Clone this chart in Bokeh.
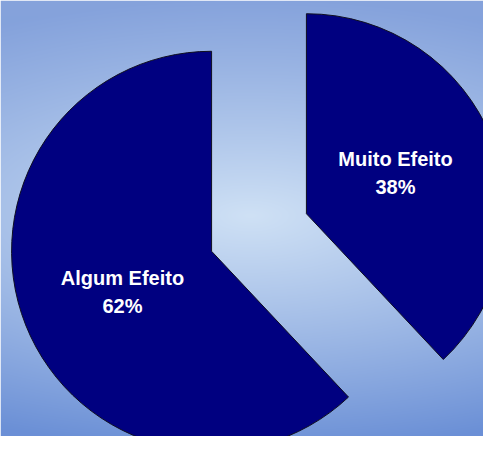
import numpy as np
from bokeh.plotting import figure
from bokeh.models import ColumnDataSource, Range1d
from bokeh.embed import file_html
from bokeh.resources import INLINE
from bokeh.core.properties import value

# ---- data ----
categories = ["Muito Efeito", "Algum Efeito"]
percentages = [38, 62]
labels = ["Muito Efeito\n38%", "Algum Efeito\n62%"]

# ---- geometry / style (reference pixel space, y up) ----
W, H = 499, 452
FW, FH = 483, 436
cx, cy = 258.5, H - 232.0
R = 200.0
explode = 51.0
label_r = 98.0

vals = np.array(percentages, dtype=float)
fracs = vals / vals.sum()
ends_cum = np.cumsum(fracs)
starts_cum = ends_cum - fracs
start_angles = np.pi / 2 - 2 * np.pi * starts_cum
end_angles = np.pi / 2 - 2 * np.pi * ends_cum
mid = (start_angles + end_angles) / 2
xs = cx + explode * np.cos(mid)
ys = cy + explode * np.sin(mid)
lab_ang = mid + np.radians(3)
lx = xs + label_r * np.cos(lab_ang)
ly = ys + label_r * np.sin(lab_ang)

src = ColumnDataSource(dict(cat=categories, x=xs, y=ys, sa=start_angles, ea=end_angles,
                            lx=lx, ly=ly, label=labels))

p = figure(width=FW, height=FH, output_backend="svg", toolbar_location=None,
           x_range=Range1d(0, FW), y_range=Range1d(H - FH, H),
           min_border=0, outline_line_color=None)
p.axis.visible = False
p.grid.visible = False

# background gradient (smooth, light centre, darker edges)
yy, xx = np.mgrid[0:H, 0:W]
ypix = H - (yy + 0.5)
xpix = xx + 0.5
gcx, gcy = 250.0, 215.0
fy = np.where(ypix < gcy, (gcy - ypix) / gcy, (ypix - gcy) / (H - gcy))
fx = np.abs(xpix - gcx) / gcx
d = np.clip(np.sqrt(fy ** 2 + (0.45 * fx) ** 2), 0, 1)
center_c = np.array([207, 225, 245], dtype=float)
top_c = np.array([134, 163, 220], dtype=float)
bot_c = np.array([106, 143, 214], dtype=float)
t = (ypix / H)[..., None]
edge = top_c + (bot_c - top_c) * t
col = center_c + (edge - center_c) * d[..., None]
img = np.empty((H, W), dtype=np.uint32)
view = img.view(dtype=np.uint8).reshape((H, W, 4))
view[..., 0] = col[..., 0].astype(np.uint8)
view[..., 1] = col[..., 1].astype(np.uint8)
view[..., 2] = col[..., 2].astype(np.uint8)
view[..., 3] = 255
p.image_rgba(image=[img], x=0, y=0, dw=W, dh=H)

p.wedge(x="x", y="y", radius=R, start_angle="sa", end_angle="ea", direction="clock",
        fill_color="#000080", line_color="#101020", line_width=1, source=src)

p.text(x="lx", y="ly", text="label", source=src, text_color="white",
       text_font=value("Liberation Sans"), text_font_style="bold",
       text_font_size="20px", text_align="center", text_baseline="middle",
       text_line_height=1.3)

open("out.html", "w").write(file_html(p, INLINE))
